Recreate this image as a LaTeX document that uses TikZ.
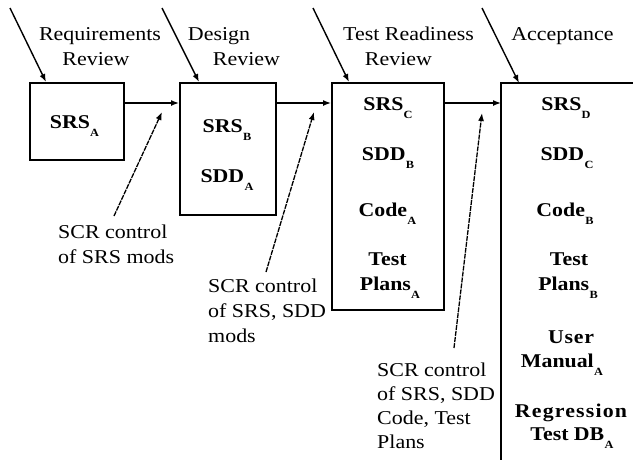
\documentclass[tikz,border=0pt]{standalone}
\usepackage{fontspec}
\setmainfont{Liberation Serif}[FakeStretch=1.12]
\usetikzlibrary{arrows.meta}
\newcommand\sbs[1]{\kern0.3pt\raisebox{-8pt}{\fontsize{11}{11}\selectfont #1}}
\begin{document}
\begin{tikzpicture}[x=1pt,y=-1pt,
  boxst/.style={draw,line width=2pt,rectangle,inner sep=0pt},
  lbl/.style={font=\fontsize{19.6}{24}\selectfont,inner sep=0pt,anchor=base},
  lbll/.style={font=\fontsize{19.6}{24}\selectfont,inner sep=0pt,anchor=base west},
  itm/.style={font=\fontsize{19.5}{24}\selectfont\bfseries,inner sep=0pt,anchor=base},
  arr/.style={line width=1.4pt,-{Latex[length=8pt,width=6pt]}},
  darr/.style={line width=1.3pt,dash pattern=on 5pt off 1pt,-{Latex[length=8pt,width=6pt]}}]
\useasboundingbox (0,0) rectangle (633,459);
% boxes
\node[boxst,minimum width=94pt,minimum height=77pt] (box1) at (77,121.5) {};
\node[boxst,minimum width=96pt,minimum height=132pt] (box2) at (228,149) {};
\node[boxst,minimum width=112pt,minimum height=227pt] (box3) at (388,196.5) {};
\coordinate (b4tl) at (501,83);
\coordinate (b4tr) at (634,83);
\coordinate (b4bl) at (501,460);
\draw[line width=2pt] (b4tr) -- (b4tl) -- (b4bl);
% review labels
\node[lbl] (rq1) at (100,40) {Requirements};
\node[lbl] (rq2) at (96,65) {Review};
\node[lbl] (dr1) at (219,40) {Design};
\node[lbl] (dr2) at (246.5,65) {Review};
\node[lbl] (tr1) at (408.5,40) {Test Readiness};
\node[lbl] (tr2) at (398.5,65) {Review};
\node[lbl] (ac1) at (562.5,40) {Acceptance};
% box contents
\node[itm] (s1) at (74.5,128) {SRS\sbs{A}};
\node[itm] (s2) at (227,132) {SRS\sbs{B}};
\node[itm] (d2) at (227,182) {SDD\sbs{A}};
\node[itm] (s3) at (388,110) {SRS\sbs{C}};
\node[itm] (d3) at (388,160) {SDD\sbs{B}};
\node[itm] (c3) at (387.5,216) {Code\sbs{A}};
\node[itm] (t3) at (387.5,265) {Test};
\node[itm] (p3) at (390,290) {Plans\sbs{A}};
\node[itm] (s4) at (566,110) {SRS\sbs{D}};
\node[itm] (d4) at (567,160) {SDD\sbs{C}};
\node[itm] (c4) at (565,216) {Code\sbs{B}};
\node[itm] (t4) at (569,265) {Test};
\node[itm] (p4) at (568,290) {Plans\sbs{B}};
\node[itm] (u4) at (571,343) {\addfontfeature{LetterSpace=4}User};
\node[itm] (m4) at (562,367) {Manual\sbs{A}};
\node[itm] (r4) at (571,417) {\addfontfeature{LetterSpace=6}Regression};
\node[itm] (db4) at (572,440) {Test DB\sbs{A}};
% SCR labels
\node[lbll] (sc1a) at (58,238) {SCR control};
\node[lbll] (sc1b) at (58,263) {of SRS mods};
\node[lbll] (sc2a) at (208,292) {SCR control};
\node[lbll] (sc2b) at (208,317) {of SRS, SDD};
\node[lbll] (sc2c) at (208,342) {mods};
\node[lbll] (sc3a) at (377,376) {SCR control};
\node[lbll] (sc3b) at (377,400) {of SRS, SDD};
\node[lbll] (sc3c) at (377,424) {Code, Test};
\node[lbll] (sc3d) at (377,448) {Plans};
% top arrows
\coordinate (t1) at (10,8);
\coordinate (t2) at (162,8);
\coordinate (t3s) at (313,8);
\coordinate (t4s) at (482,8);
\draw[arr] (t1) -- ([xshift=17pt]box1.north west);
\draw[arr] (t2) -- ([xshift=20pt]box2.north west);
\draw[arr] (t3s) -- ([xshift=18pt]box3.north west);
\draw[arr] (t4s) -- ([xshift=18pt]b4tl);
% horizontal arrows
\coordinate (hy) at (0,103);
\draw[arr] (box1.east |- hy) -- (box2.west |- hy);
\draw[arr] (box2.east |- hy) -- (box3.west |- hy);
\draw[arr] (box3.east |- hy) -- (b4tl |- hy);
% dashed arrows
\coordinate (e1s) at (114,216);
\coordinate (e1e) at (162,112);
\coordinate (e2s) at (266,272);
\coordinate (e2e) at (314,112);
\coordinate (e3s) at (454,348);
\coordinate (e3e) at (482,113);
\draw[darr] (e1s) -- (e1e);
\draw[darr] (e2s) -- (e2e);
\draw[darr] (e3s) -- (e3e);
\end{tikzpicture}
\end{document}
